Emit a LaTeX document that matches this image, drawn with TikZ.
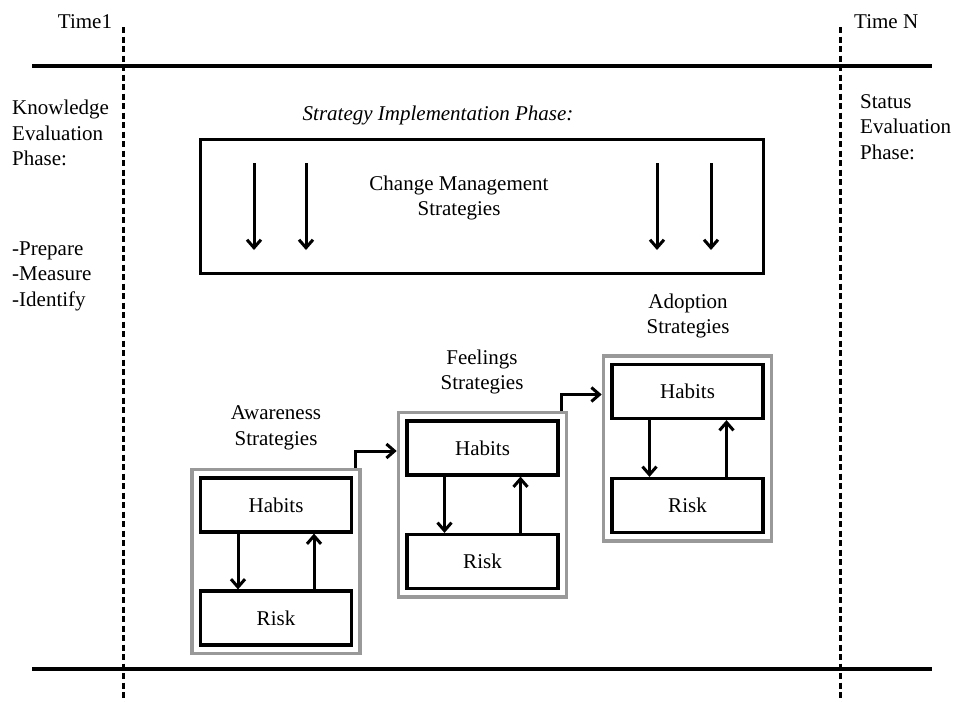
\documentclass[tikz,border=0pt]{standalone}
\usepackage{fontspec}
\setmainfont{Liberation Serif}
\usetikzlibrary{arrows.meta,fit,calc}
\begin{document}
\begin{tikzpicture}[x=1pt,y=-1pt,
  txt/.style={inner sep=0pt,font=\fontsize{21}{25.5}\selectfont},
  inbox/.style={draw,line width=3.2pt,minimum width=151pt,minimum height=54pt,inner sep=0pt,font=\fontsize{21}{25.5}\selectfont},
  grp/.style={draw=black!40,line width=3.4pt,inner sep=7pt},
  arr/.style={line width=3pt,-{Straight Barb[length=8pt,width=14pt,line width=3pt]}},
  sep/.style={line width=3pt,dash pattern=on 6pt off 3.5pt},
  hline/.style={line width=3.2pt}]
\useasboundingbox (0,0) rectangle (954,702);

% time lines
\coordinate (t1top) at (123,27);
\coordinate (t1bot) at (123,702);
\coordinate (tntop) at (840,27);
\coordinate (tnbot) at (840,702);
\draw[sep] (t1top) -- (t1bot);
\draw[sep] (tntop) -- (tnbot);
\coordinate (hl1) at (32,66);
\coordinate (hr1) at (932,66);
\coordinate (hl2) at (32,669);
\coordinate (hr2) at (932,669);
\draw[hline] (hl1) -- (hr1);
\draw[hline] (hl2) -- (hr2);

\node[txt] (time1) at (85,22) {Time1};
\node[txt,anchor=west] (timen) at (854,22) {Time N};

\node[txt,anchor=west,align=left] (know) at (12,133) {Knowledge\\Evaluation\\Phase:};
\node[txt,anchor=west,align=left] (pmi) at (12,276) {-Prepare\\-Measure\\-Identify};
\node[txt,anchor=west,align=left] (status) at (860,127) {Status\\Evaluation\\Phase:};

\node[txt,font=\fontsize{21}{25.5}\selectfont\itshape] (sip) at (438,115) {Strategy Implementation Phase:};

% change management box
\node[draw,line width=3.2pt,minimum width=563pt,minimum height=134pt,inner sep=0pt] (cmbox) at (482,206.5) {};
\node[txt,align=center] (cmtext) at (459,198) {Change Management\\Strategies};
\foreach \xx in {254,306,657,711}{
  \draw[arr] (\xx,163) -- (\xx,250);
}

% Awareness
\node[inbox] (h1) at (276,505) {Habits};
\node[inbox] (r1) at (276,618) {Risk};
\node[grp,fit=(h1)(r1)] (g1) {};
\node[txt,align=center] (l1) at (276,428) {Awareness\\Strategies};
\draw[arr] ([xshift=-38pt]h1.south) -- ([xshift=-38pt]r1.north);
\draw[arr] ([xshift=38pt]r1.north) -- ([xshift=38pt]h1.south);

% Feelings
\node[inbox] (h2) at (482.5,448) {Habits};
\node[inbox] (r2) at (482.5,561.5) {Risk};
\node[grp,fit=(h2)(r2)] (g2) {};
\node[txt,align=center] (l2) at (482,372) {Feelings\\Strategies};
\draw[arr] ([xshift=-38pt]h2.south) -- ([xshift=-38pt]r2.north);
\draw[arr] ([xshift=38pt]r2.north) -- ([xshift=38pt]h2.south);

% Adoption
\node[inbox] (h3) at (687.5,391.5) {Habits};
\node[inbox] (r3) at (687.5,505.5) {Risk};
\node[grp,fit=(h3)(r3)] (g3) {};
\node[txt,align=center] (l3) at (688,316) {Adoption\\Strategies};
\draw[arr] ([xshift=-38pt]h3.south) -- ([xshift=-38pt]r3.north);
\draw[arr] ([xshift=39pt]r3.north) -- ([xshift=39pt]h3.south);

% connectors between groups
\draw[arr] ([xshift=-6pt]g1.north east) |- ([yshift=-3pt]g2.west |- h2.center);
\draw[arr] ([xshift=-7pt]g2.north east) |- ([yshift=-3pt]g3.west |- h3.center);
\end{tikzpicture}
\end{document}
